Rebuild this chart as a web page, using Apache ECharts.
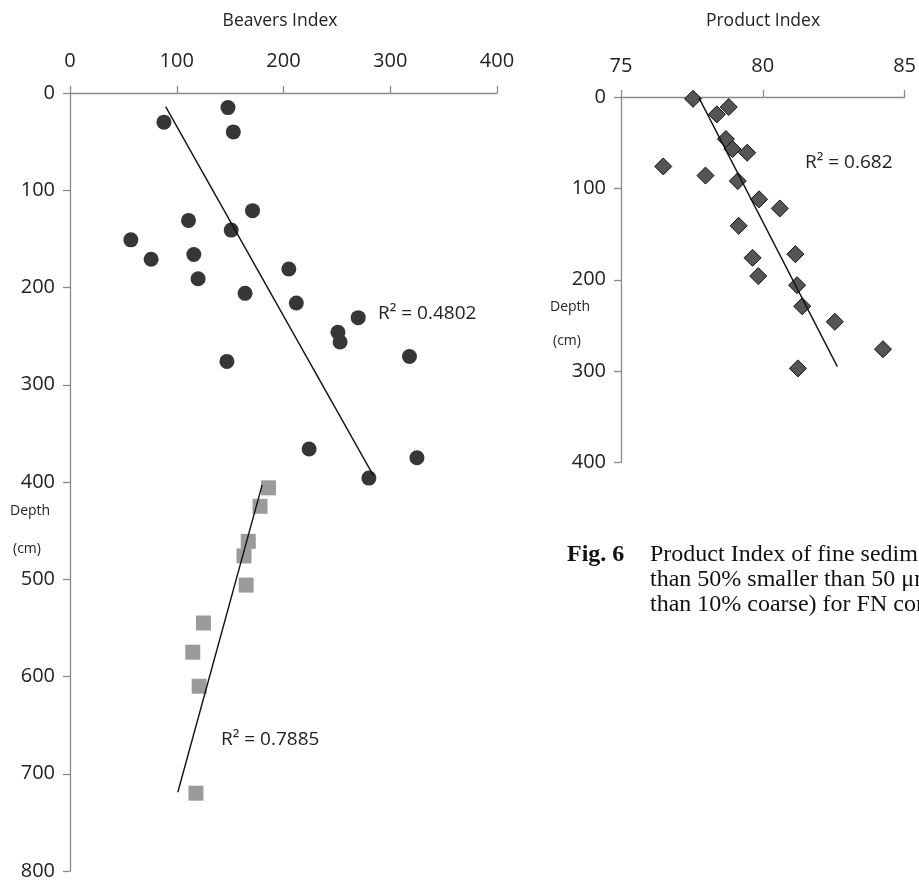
<!DOCTYPE html>
<html>
<head>
<meta charset="utf-8">
<script src="https://cdn.jsdelivr.net/npm/echarts@6/dist/echarts.min.js"></script>
<style>
html,body{margin:0;padding:0;background:#fff;}
#c{width:919px;height:882px;}
</style>
</head>
<body>
<div id="c"></div>
<script>
// ---- Left chart: Beavers Index vs depth ----
const beaverTicksX = [0, 100, 200, 300, 400];
const depthTicksLeft = [0, 100, 200, 300, 400, 500, 600, 700, 800];
const beaverCircleX = [148, 88, 153, 171, 111, 151, 57, 116, 76, 205, 120, 164, 212, 270, 251, 253, 147, 318, 224, 325, 280];
const beaverCircleDepth = [15, 30, 40, 121, 131, 141, 151, 166, 171, 181, 191, 206, 216, 231, 246, 256, 276, 271, 366, 375, 396];
const beaverSquareX = [186, 178, 167, 163, 165, 125, 115, 121, 118];
const beaverSquareDepth = [406, 425, 461, 476, 506, 545, 575, 610, 720];
const beaverCircleTrendX = [89.6, 284];
const beaverCircleTrendDepth = [14, 393];
const beaverSquareTrendX = [180, 101];
const beaverSquareTrendDepth = [403, 719];
const beaverCircleR2 = "R² = 0.4802";
const beaverSquareR2 = "R² = 0.7885";

// ---- Right chart: Product Index vs depth ----
const productTicksX = [75, 80, 85];
const depthTicksRight = [0, 100, 200, 300, 400];
const productX = [77.54, 78.80, 78.38, 78.70, 78.93, 79.45, 76.49, 77.98, 79.12, 79.87, 80.60, 79.15, 81.15, 79.64, 79.84, 81.21, 81.39, 82.54, 84.24, 81.24];
const productDepth = [2, 11, 19, 46, 57, 61, 76, 86, 92, 112, 122, 141, 172, 176, 196, 206, 229, 246, 276, 297];
const productTrendX = [77.75, 82.63];
const productTrendDepth = [1, 295];
const productR2 = "R² = 0.682";

const captionBold = "Fig. 6";
const captionLines = [
  "Product Index of fine sediments (more",
  "than 50% smaller than 50 μm and less",
  "than 10% coarse) for FN core"
];

function pairs(xs, ys) { return xs.map((x, i) => [x, ys[i]]); }

const FONT = '"Open Sans", "Noto Sans", sans-serif';
const axisLine = { lineStyle: { color: '#8a8a8a', width: 1.3 } };
const axisTick = { show: true, length: 7, lineStyle: { color: '#8a8a8a', width: 1.3 } };
const tickLabel = { color: '#222', fontFamily: FONT, fontSize: 20 };

function xAx(idx, min, max, interval, margin) {
  return {
    type: 'value', gridIndex: idx, position: 'top', min, max, interval,
    axisLine: Object.assign({ show: true, onZero: false }, axisLine),
    axisTick, splitLine: { show: false },
    axisLabel: Object.assign({ margin }, tickLabel)
  };
}
function yAx(idx, min, max, interval, margin) {
  return {
    type: 'value', gridIndex: idx, inverse: true, min, max, interval,
    axisLine: Object.assign({ show: true, onZero: false }, axisLine),
    axisTick, splitLine: { show: false },
    axisLabel: Object.assign({ margin }, tickLabel)
  };
}

const chart = echarts.init(document.getElementById('c'), null, { renderer: 'canvas' });

function txt(x, y, text, size, opts) {
  opts = opts || {};
  return {
    type: 'text', x, y, z: 100,
    style: {
      text, fill: opts.fill || '#222',
      font: (opts.weight || 'normal') + ' ' + size + 'px ' + (opts.family || FONT),
      align: opts.align || 'left', textAlign: opts.align || 'left',
      verticalAlign: 'middle', textVerticalAlign: 'middle'
    }
  };
}

const SERIF = '"Liberation Serif", "Times New Roman", serif';

chart.setOption({
  animation: false,
  backgroundColor: '#fff',
  grid: [
    { left: 70, top: 93, width: 427, height: 778 },
    { left: 621, top: 97, width: 284, height: 365.5 }
  ],
  xAxis: [
    xAx(0, beaverTicksX[0], beaverTicksX[beaverTicksX.length - 1], beaverTicksX[1] - beaverTicksX[0], 22),
    xAx(1, productTicksX[0], productTicksX[productTicksX.length - 1], productTicksX[1] - productTicksX[0], 21)
  ],
  yAxis: [
    yAx(0, depthTicksLeft[0], depthTicksLeft[depthTicksLeft.length - 1], depthTicksLeft[1] - depthTicksLeft[0], 15),
    yAx(1, depthTicksRight[0], depthTicksRight[depthTicksRight.length - 1], depthTicksRight[1] - depthTicksRight[0], 15)
  ],
  series: [
    {
      type: 'scatter', xAxisIndex: 0, yAxisIndex: 0, symbol: 'circle', symbolSize: 15,
      itemStyle: { color: '#363636', opacity: 1 }, z: 2,
      data: pairs(beaverCircleX, beaverCircleDepth)
    },
    {
      type: 'scatter', xAxisIndex: 0, yAxisIndex: 0, symbol: 'rect', symbolSize: 15,
      itemStyle: { color: '#9b9b9b', opacity: 1 }, z: 2,
      data: pairs(beaverSquareX, beaverSquareDepth)
    },
    {
      type: 'line', xAxisIndex: 0, yAxisIndex: 0, symbol: 'none', z: 5,
      lineStyle: { color: '#111', width: 1.4 },
      data: pairs(beaverCircleTrendX, beaverCircleTrendDepth)
    },
    {
      type: 'line', xAxisIndex: 0, yAxisIndex: 0, symbol: 'none', z: 5,
      lineStyle: { color: '#111', width: 1.4 },
      data: pairs(beaverSquareTrendX, beaverSquareTrendDepth)
    },
    {
      type: 'scatter', xAxisIndex: 1, yAxisIndex: 1, symbol: 'diamond', symbolSize: [17, 17],
      itemStyle: { color: '#555', borderColor: '#111', borderWidth: 1, opacity: 1 }, z: 2,
      data: pairs(productX, productDepth)
    },
    {
      type: 'line', xAxisIndex: 1, yAxisIndex: 1, symbol: 'none', z: 5,
      lineStyle: { color: '#111', width: 1.4 },
      data: pairs(productTrendX, productTrendDepth)
    }
  ],
  graphic: [
    txt(280, 21, 'Beavers Index', 17.5, { align: 'center' }),
    txt(763, 21, 'Product Index', 17.5, { align: 'center' }),
    txt(10, 511, 'Depth', 14),
    txt(13, 549, '(cm)', 14),
    txt(550, 307, 'Depth', 14),
    txt(553, 341, '(cm)', 14),
    txt(378, 314, beaverCircleR2, 19),
    txt(221, 740, beaverSquareR2, 19),
    txt(805, 163, productR2, 19),
    txt(567, 555, captionBold, 24, { family: SERIF, weight: 'bold', fill: '#111' }),
    txt(650, 555, captionLines[0], 24, { family: SERIF, fill: '#111' }),
    txt(650, 580, captionLines[1], 24, { family: SERIF, fill: '#111' }),
    txt(650, 605, captionLines[2], 24, { family: SERIF, fill: '#111' })
  ]
});
</script>
</body>
</html>
